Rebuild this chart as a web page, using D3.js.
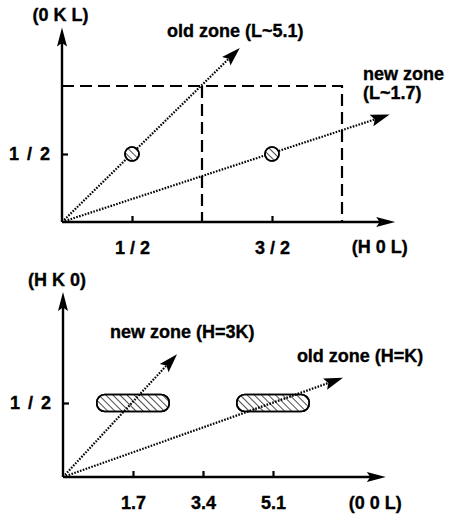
<!DOCTYPE html>
<html><head><meta charset="utf-8">
<script src="https://cdn.jsdelivr.net/npm/d3@7"></script>
<style>
body{margin:0;background:#fff;}
text{font-family:"Liberation Sans",Arial,Helvetica,sans-serif;font-weight:bold;font-size:18px;fill:#000;stroke:#000;stroke-width:0.35px;}
</style></head>
<body>
<svg id="c" width="451" height="518"></svg>
<script>
// ---------- data ----------
// top panel: (H 0 L) vs (0 K L)
const topXTicks = [0.5, 1.5];
const topXTickLabels = ["1 / 2", "3 / 2"];
const topYTicks = [0.5];
const topYTickLabels = ["1 / 2"];
const topAxisEnd = [2.38, 1.43];           // axis extents (H, K)
const topZoneBox = [2, 1];                  // dashed zone boundary (H, K)
const topZoneDivider = [1];                 // interior dashed line at H
const topRays = [
  {name: "old zone", tip: [1.27, 1.28]},
  {name: "new zone", tip: [2.34, 0.79]}
];
const topPoints = [[0.5, 0.5], [1.5, 0.5]];
const topLabels = [
  {text: "(0 K L)", x: -0.21, y: 1.48},
  {text: "old zone (L~5.1)", x: 0.75, y: 1.36},
  {text: "new zone", x: 2.15, y: 1.045},
  {text: "(L~1.7)", x: 2.15, y: 0.905},
  {text: "(H 0 L)", x: 2.07, y: -0.23}
];

// bottom panel: (0 0 L) vs (H K 0)
const botXTicks = [1.7, 3.4, 5.1];
const botXTickLabels = ["1.7", "3.4", "5.1"];
const botYTicks = [0.5];
const botYTickLabels = ["1 / 2"];
const botAxisEnd = [7.84, 1.25];
const botRays = [
  {name: "new zone", tip: [2.77, 0.83]},
  {name: "old zone", tip: [6.8, 0.67]}
];
const botBlobs = [{c: [1.7, 0.5], half: 0.88}, {c: [5.1, 0.5], half: 0.88}];
const botLabels = [
  {text: "(H K 0)", x: -0.85, y: 1.29},
  {text: "new zone (H=3K)", x: 1.14, y: 0.94},
  {text: "old zone (H=K)", x: 5.68, y: 0.776},
  {text: "(0 0 L)", x: 6.94, y: -0.216}
];

// ---------- drawing ----------
const svg = d3.select("#c");
const defs = svg.append("defs");
const hatch = defs.append("pattern").attr("id","hatch").attr("patternUnits","userSpaceOnUse")
  .attr("width",5).attr("height",5).attr("patternTransform","rotate(-45)");
hatch.append("line").attr("x1",0).attr("y1",0).attr("x2",0).attr("y2",5)
  .attr("stroke","#000").attr("stroke-width",1.4);

function arrowHead(g, x1, y1, x2, y2, len, hw){
  const a = Math.atan2(y2-y1, x2-x1);
  const bx = x2 - len*Math.cos(a), by = y2 - len*Math.sin(a);
  const px = -Math.sin(a)*hw, py = Math.cos(a)*hw;
  g.append("path").attr("d", `M${x2},${y2}L${bx+px},${by+py}L${bx+len*0.18*Math.cos(a)},${by+len*0.18*Math.sin(a)}L${bx-px},${by-py}Z`)
    .attr("fill","#000");
}

function drawPanel(cfg){
  const g = svg.append("g");
  const x = cfg.x, y = cfg.y;
  const x0 = x(0), y0 = y(0);
  const xe = x(cfg.axisEnd[0]), ye = y(cfg.axisEnd[1]);
  g.append("line").attr("x1",x0).attr("y1",y0).attr("x2",xe-10).attr("y2",y0).attr("stroke","#000").attr("stroke-width",2.4);
  g.append("line").attr("x1",x0).attr("y1",y0).attr("x2",x0).attr("y2",ye+10).attr("stroke","#000").attr("stroke-width",2.4);
  arrowHead(g, x0, y0, xe, y0, 19, 5);
  arrowHead(g, x0, y0, x0, ye, 19, 5);
  const ax = d3.axisBottom(x).tickValues(cfg.xTicks).tickFormat((d,i)=>cfg.xTickLabels[i])
    .tickSizeInner(-6).tickSizeOuter(0).tickPadding(19);
  const gx = g.append("g").attr("transform",`translate(0,${y0})`).call(ax);
  const ay = d3.axisLeft(y).tickValues(cfg.yTicks).tickFormat((d,i)=>cfg.yTickLabels[i])
    .tickSizeInner(-6).tickSizeOuter(0).tickPadding(12);
  const gy = g.append("g").attr("transform",`translate(${x0},0)`).call(ay);
  [gx, gy].forEach(a=>{
    a.select(".domain").remove();
    a.selectAll(".tick line").attr("stroke","#000").attr("stroke-width",2.2);
    a.selectAll(".tick text").attr("font-size",18).attr("font-family",null).style("fill","#000");
  });
  gy.selectAll(".tick text").style("word-spacing","3px");
  return g;
}

// top panel
const tx = d3.scaleLinear().domain([0,2]).range([62,342]);
const ty = d3.scaleLinear().domain([0,1]).range([222,86]);
const gt = drawPanel({x:tx, y:ty, axisEnd:topAxisEnd, xTicks:topXTicks, xTickLabels:topXTickLabels, yTicks:topYTicks, yTickLabels:topYTickLabels});
const bx = topZoneBox[0], bk = topZoneBox[1];
gt.append("path").attr("d", `M${tx(0)},${ty(bk)}L${tx(bx)},${ty(bk)}L${tx(bx)},${ty(0)}`)
  .attr("fill","none").attr("stroke","#000").attr("stroke-width",2.2).attr("stroke-dasharray","12,6");
topZoneDivider.forEach(h=>{
  gt.append("line").attr("x1",tx(h)).attr("y1",ty(bk)).attr("x2",tx(h)).attr("y2",ty(0))
    .attr("stroke","#000").attr("stroke-width",2.2).attr("stroke-dasharray","12,6");
});
topRays.forEach(r=>{
  const X = tx(r.tip[0]), Y = ty(r.tip[1]);
  const a = Math.atan2(Y-ty(0), X-tx(0));
  gt.append("line").attr("x1",tx(0)).attr("y1",ty(0)).attr("x2",X-12*Math.cos(a)).attr("y2",Y-12*Math.sin(a))
    .attr("stroke","#000").attr("stroke-width",2.2).attr("stroke-dasharray","1.6,1.4");
  arrowHead(gt, tx(0), ty(0), X, Y, 19, 6);
});
topPoints.forEach(p=>{
  gt.append("circle").attr("cx",tx(p[0])).attr("cy",ty(p[1])).attr("r",7)
    .attr("fill","#fff").attr("stroke","#000").attr("stroke-width",1.6);
  gt.append("circle").attr("cx",tx(p[0])).attr("cy",ty(p[1])).attr("r",7)
    .attr("fill","url(#hatch)").attr("stroke","#000").attr("stroke-width",1.6);
});
topLabels.forEach(l=>{
  gt.append("text").attr("x",tx(l.x)).attr("y",ty(l.y)).text(l.text);
});

// bottom panel
const bxs = d3.scaleLinear().domain([0,5.1]).range([63,273]);
const bys = d3.scaleLinear().domain([0,0.5]).range([477,403]);
const gb = drawPanel({x:bxs, y:bys, axisEnd:botAxisEnd, xTicks:botXTicks, xTickLabels:botXTickLabels, yTicks:botYTicks, yTickLabels:botYTickLabels});
botBlobs.forEach(b=>{
  const x1 = bxs(b.c[0]-b.half), x2 = bxs(b.c[0]+b.half), yc = bys(b.c[1]);
  gb.append("rect").attr("x",x1).attr("y",yc-8.5).attr("width",x2-x1).attr("height",17).attr("rx",8).attr("ry",8)
    .attr("fill","#fff").attr("stroke","#000").attr("stroke-width",1.6);
  gb.append("rect").attr("x",x1).attr("y",yc-8.5).attr("width",x2-x1).attr("height",17).attr("rx",8).attr("ry",8)
    .attr("fill","url(#hatch)").attr("stroke","#000").attr("stroke-width",1.6);
});
botRays.forEach(r=>{
  const X = bxs(r.tip[0]), Y = bys(r.tip[1]);
  const a = Math.atan2(Y-bys(0), X-bxs(0));
  gb.append("line").attr("x1",bxs(0)).attr("y1",bys(0)).attr("x2",X-12*Math.cos(a)).attr("y2",Y-12*Math.sin(a))
    .attr("stroke","#000").attr("stroke-width",2.2).attr("stroke-dasharray","1.6,1.4");
  arrowHead(gb, bxs(0), bys(0), X, Y, 19, 6);
});
botLabels.forEach(l=>{
  gb.append("text").attr("x",bxs(l.x)).attr("y",bys(l.y)).text(l.text);
});
</script>
</body></html>
